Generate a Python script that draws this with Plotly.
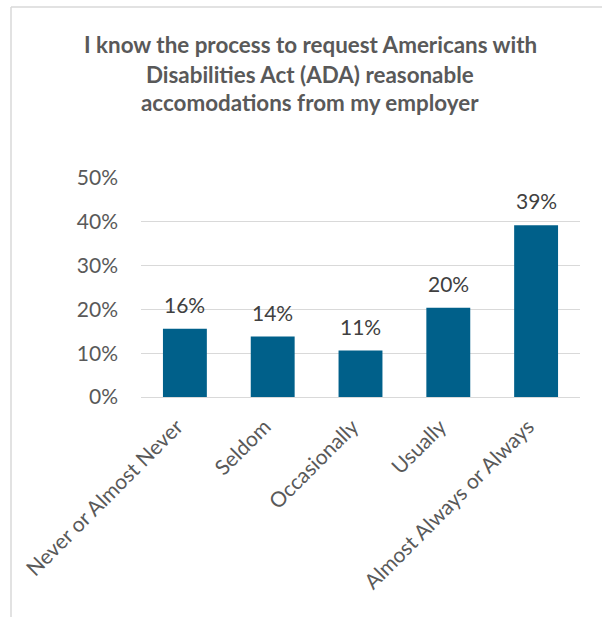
import plotly.graph_objects as go

# Survey responses
categories = ["Never or Almost Never", "Seldom", "Occasionally", "Usually", "Almost Always or Always"]
shares = [0.156, 0.138, 0.106, 0.204, 0.392]
y_ticks = [0, 0.1, 0.2, 0.3, 0.4, 0.5]
y_tick_labels = ["0%", "10%", "20%", "30%", "40%", "50%"]

title_lines = [
    "I know the process to request Americans with",
    "Disabilities Act (ADA) reasonable",
    "accomodations from my employer",
]

W, H = 602, 617
L, R, T, B = 141, 22, 178, 220
plot_w = W - L - R
plot_h = H - T - B

def px_to_paper_x(px):
    return (px - L) / plot_w

def px_to_paper_y(py):
    return (H - B - py) / plot_h

TEXT = "#595959"
FONT = "Lato"

fig = go.Figure(
    go.Bar(
        x=categories,
        y=shares,
        width=0.5,
        marker=dict(color="#00608A", line=dict(color="#00608A", width=0)),
        hoverinfo="skip",
    )
)

# Value labels above each bar
for cat, v in zip(categories, shares):
    fig.add_annotation(
        x=cat, y=v, xref="x", yref="y",
        text=f"{v:.0%}",
        showarrow=False,
        yanchor="bottom",
        yshift=10,
        font=dict(family=FONT, size=21, color="#404040"),
    )

fig.update_layout(
    width=W,
    height=H,
    margin=dict(l=L, r=R, t=T, b=B),
    paper_bgcolor="white",
    plot_bgcolor="white",
    showlegend=False,
    bargap=0.5,
    font=dict(family=FONT, color=TEXT),
)

fig.update_yaxes(
    range=[0, 0.5],
    tickvals=y_ticks,
    ticktext=y_tick_labels,
    tickfont=dict(family=FONT, size=21, color=TEXT),
    showgrid=True,
    gridcolor="#D9D9D9",
    gridwidth=1.3,
    zeroline=False,
    showline=False,
    ticks="",
    ticklabelstandoff=22,
)

fig.update_xaxes(
    tickangle=-45,
    tickfont=dict(family=FONT, size=21, color=TEXT),
    showline=True,
    linecolor="#D9D9D9",
    linewidth=1.3,
    ticks="",
    showgrid=False,
    ticklabelstandoff=8,
    ticklabelshift=-8,
)

# Title block, one annotation per line
baselines = [54, 84, 112]
for line, base in zip(title_lines, baselines):
    fig.add_annotation(
        text=f"<b>{line}</b>",
        xref="paper", yref="paper",
        x=px_to_paper_x(310), y=px_to_paper_y(base + 6),
        xanchor="center", yanchor="bottom",
        showarrow=False,
        align="center",
        font=dict(family=FONT, size=22.4, color=TEXT),
    )

# Chart frame (left and top edges)
frame = dict(color="#D9D9D9", width=1.5)
fig.add_shape(type="line", xref="paper", yref="paper",
              x0=px_to_paper_x(11), x1=px_to_paper_x(11),
              y0=px_to_paper_y(7), y1=px_to_paper_y(H + 5), line=frame)
fig.add_shape(type="line", xref="paper", yref="paper",
              x0=px_to_paper_x(11), x1=px_to_paper_x(W + 5),
              y0=px_to_paper_y(7), y1=px_to_paper_y(7), line=frame)

fig.write_html("out.html")
